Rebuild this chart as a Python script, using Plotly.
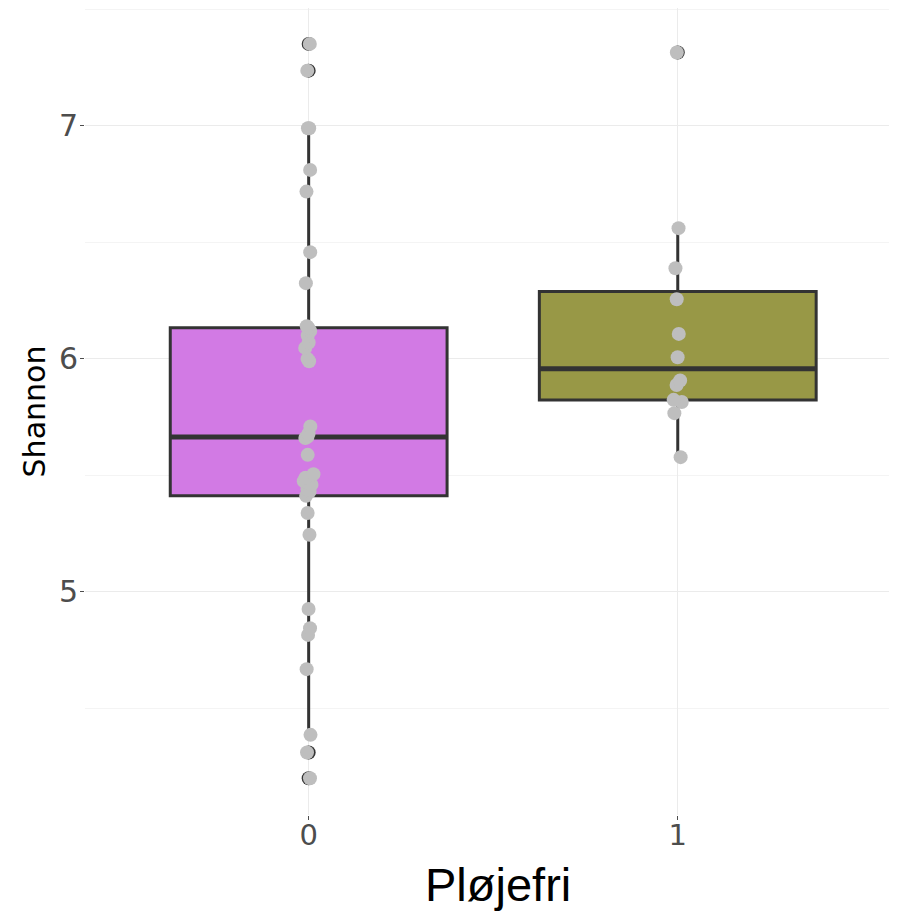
import plotly.graph_objects as go

# ---- data ----
categories = ["0", "1"]
fill_colors = ["#D27AE4", "#989846"]

shannon_0 = [7.352, 7.237, 6.99, 6.99, 6.811, 6.718, 6.458, 6.325, 6.14, 6.133,
             6.12, 6.10, 6.07, 6.047, 6.00, 5.99, 5.71, 5.68, 5.665, 5.66,
             5.588, 5.505, 5.49, 5.475, 5.46, 5.44, 5.43, 5.412, 5.338, 5.245,
             4.926, 4.844, 4.815, 4.668, 4.386, 4.31, 4.20]
shannon_1 = [7.315, 6.561, 6.389, 6.256, 6.107, 6.007, 5.907, 5.888, 5.824,
             5.815, 5.767, 5.578]

q1_vals = [5.412, 5.823]
median_vals = [5.665, 5.957]
q3_vals = [6.133, 6.289]
lower_whisker = [4.386, 5.578]
upper_whisker = [6.99, 6.561]

outliers_0 = [7.352, 7.237, 4.31, 4.20]
outliers_1 = [7.315]

y_ticks = [5, 6, 7]
x_title = "Pløjefri"
y_title = "Shannon"

fig = go.Figure()
clear = "rgba(0,0,0,0)"

# boxes
for i, cat in enumerate(categories):
    fig.add_trace(go.Box(
        x=[cat], q1=[q1_vals[i]], median=[median_vals[i]], q3=[q3_vals[i]],
        lowerfence=[lower_whisker[i]], upperfence=[upper_whisker[i]],
        fillcolor=fill_colors[i], line=dict(color="#333333", width=3),
        whiskerwidth=0, width=0.75, boxpoints=False, showlegend=False,
        hoverinfo="skip"))
    # thicker median line (ggplot fatten)
    fig.add_trace(go.Box(
        x=[cat], q1=[median_vals[i]], median=[median_vals[i]], q3=[median_vals[i]],
        lowerfence=[median_vals[i]], upperfence=[median_vals[i]],
        fillcolor=clear, line=dict(color="#333333", width=5),
        whiskerwidth=0, width=0.75, boxpoints=False, showlegend=False,
        hoverinfo="skip"))

# outlier points (boxplot outliers, dark) - as box points so grey points stay on top
for cat, vals in zip(categories, [outliers_0, outliers_1]):
    fig.add_trace(go.Box(
        x=[cat] * len(vals), y=vals, boxpoints="all", jitter=0, pointpos=0,
        fillcolor=clear, line=dict(color=clear, width=0), whiskerwidth=0,
        marker=dict(color="#333333", size=14, opacity=1),
        width=0.75, showlegend=False, hoverinfo="skip"))

# jittered grey points
for cat, vals in zip(categories, [shannon_0, shannon_1]):
    fig.add_trace(go.Box(
        x=[cat] * len(vals), y=vals, boxpoints="all", jitter=0.04, pointpos=0,
        fillcolor=clear, line=dict(color=clear, width=0), whiskerwidth=0,
        marker=dict(color="#BEBEBE", size=14, opacity=1),
        width=0.75, showlegend=False))

# page body has an 8px default margin, so the figure is sized to fit the window
fig.update_layout(
    width=889, height=911,
    margin=dict(l=77, r=0, t=0, b=104),
    paper_bgcolor="white", plot_bgcolor="white",
    boxmode="overlay",
    font=dict(family="DejaVu Sans", color="#4D4D4D"),
    annotations=[dict(
        text=x_title, xref="paper", yref="paper", x=0.5, y=0,
        xanchor="center", yanchor="top", xshift=7, yshift=-41, showarrow=False,
        font=dict(family="Liberation Sans", size=47, color="black"))],
)
fig.update_xaxes(
    type="category", categoryorder="array", categoryarray=categories,
    range=[-0.606, 1.594], showgrid=True, gridcolor="#EBEBEB", gridwidth=1.2,
    ticks="outside", ticklen=4, tickcolor="#4D4D4D", tickwidth=1,
    ticklabelstandoff=-10, automargin=False,
    tickfont=dict(family="DejaVu Sans", size=29, color="#4D4D4D"),
    showline=False, zeroline=False,
)
fig.update_yaxes(
    range=[4.042, 7.506], tickvals=y_ticks, ticktext=[str(t) for t in y_ticks],
    showgrid=True, gridcolor="#EBEBEB", gridwidth=1.2,
    minor=dict(dtick=0.5, tick0=0, showgrid=True, gridcolor="#F4F4F4", gridwidth=1, ticklen=0),
    ticks="outside", ticklen=4, tickcolor="#4D4D4D", tickwidth=1,
    ticklabelstandoff=-4, automargin=False,
    tickfont=dict(family="DejaVu Sans", size=30, color="#4D4D4D"),
    showline=False, zeroline=False,
    title=dict(text=y_title, font=dict(family="DejaVu Sans", size=30, color="black"),
               standoff=4),
)

fig.write_html("out.html")
